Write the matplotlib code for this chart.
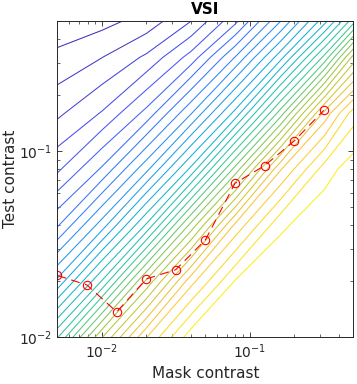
import matplotlib
matplotlib.use("Agg")
import matplotlib.pyplot as plt
from matplotlib.colors import LinearSegmentedColormap, Normalize
from matplotlib.ticker import LogLocator, NullFormatter
import numpy as np
import contourpy

# measured thresholds (red markers)
mask_contrast = [0.00501, 0.00794, 0.0126, 0.0200, 0.0316, 0.0501, 0.0794, 0.126, 0.200, 0.316]
test_contrast = [0.0215, 0.0191, 0.0137, 0.0206, 0.0231, 0.0334, 0.0673, 0.0838, 0.1138, 0.166]

# model surface (level index), on a coarse log grid
grid_mask = [0.005, 0.01, 0.02, 0.04, 0.08, 0.16, 0.32, 0.5]
grid_test = [0.01, 0.02, 0.04, 0.08, 0.16, 0.32, 0.5]
level_idx = [
    [17.9, 23.94, 28.96, 32.6, 33.5, 34.2, 34.8, 35.0],
    [12.24, 17.08, 23.22, 28.63, 32.1, 33.1, 33.7, 34.3],
    [7.87, 11.49, 16.17, 22.35, 28.28, 31.76, 32.9, 33.5],
    [4.8, 7.15, 10.73, 15.26, 21.43, 27.88, 31.5, 32.6],
    [2.79, 4.08, 6.32, 9.92, 14.38, 20.44, 27.36, 30.5],
    [1.24, 1.98, 3.18, 5.39, 9.07, 13.56, 19.32, 24.34],
    [0.35, 0.67, 1.4, 3.0, 5.76, 9.94, 14.66, 18.6],
]
levels = list(range(1, 33))

parula = LinearSegmentedColormap.from_list("parula", [
    (0.2422, 0.1504, 0.6603), (0.2810, 0.3228, 0.9579), (0.1786, 0.5289, 0.9682),
    (0.0689, 0.6948, 0.8394), (0.2161, 0.7843, 0.5923), (0.6720, 0.7793, 0.2227),
    (0.9970, 0.7659, 0.2199), (0.9769, 0.9839, 0.0805)])
norm = Normalize(0, 33)

plt.rcParams['font.family'] = 'DejaVu Sans'
fig = plt.figure(figsize=(3.57, 3.84), dpi=100)
ax = fig.add_axes([0.1605, 0.1216, 0.829, 0.823])
ax.set_xscale('log')
ax.set_yscale('log')

# contour in log-log space so lines stay straight on the log axes
gen = contourpy.contour_generator(np.log10(grid_mask), np.log10(grid_test),
                                  np.array(level_idx))
for lvl in levels:
    for seg in gen.lines(lvl):
        ax.plot(10 ** seg[:, 0], 10 ** seg[:, 1], color=parula(norm(lvl)),
                linewidth=0.75)

ax.plot(mask_contrast, test_contrast, '--o', color='red', mfc='none',
        markersize=6, linewidth=0.8, markeredgewidth=0.8, dashes=(8, 5))

ax.set_xlim(0.005, 0.5)
ax.set_ylim(0.01, 0.5)
for a in (ax.xaxis, ax.yaxis):
    a.set_major_locator(LogLocator(base=10))
    a.set_minor_locator(LogLocator(base=10, subs=np.arange(2, 10)))
    a.set_minor_formatter(NullFormatter())
ax.tick_params(which='both', direction='in', top=True, right=True, labelsize=10,
               color='#262626', labelcolor='#262626')
ax.tick_params(which='major', length=3.5, width=0.6)
ax.tick_params(which='minor', length=2, width=0.5)
for s in ax.spines.values():
    s.set_linewidth(0.7)
    s.set_color('#262626')

ax.set_title('VSI', fontsize=11, fontweight='bold', pad=5)
ax.set_xlabel('Mask contrast', fontsize=11, color='#262626', labelpad=4)
ax.set_ylabel('Test contrast', fontsize=11, color='#262626', labelpad=1)

fig.savefig('out.png', dpi=100)
